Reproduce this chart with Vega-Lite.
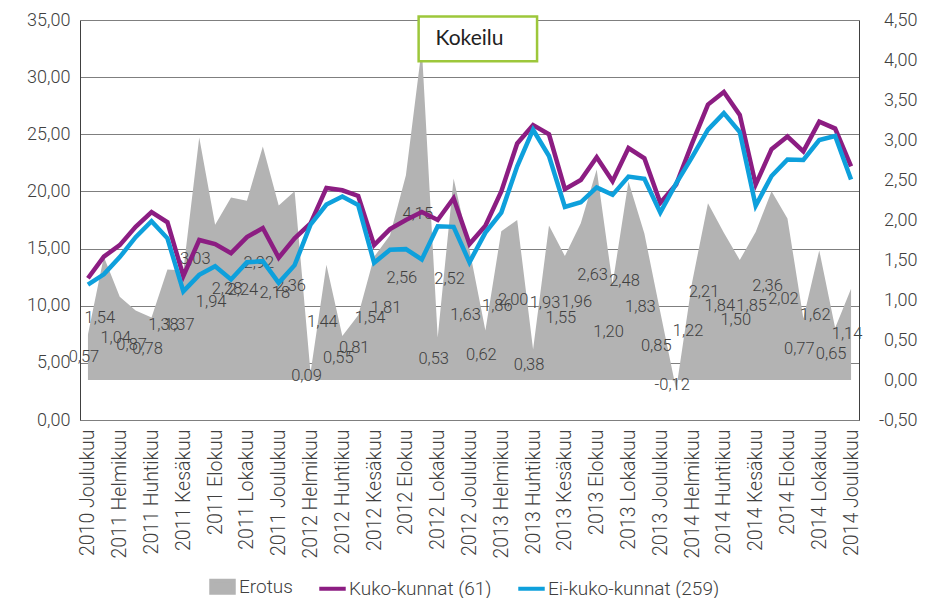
{
  "$schema": "https://vega.github.io/schema/vega-lite/v6.json",
  "width": 779,
  "height": 400,
  "autosize": {"type": "none"},
  "padding": {"left": 80, "top": 20, "right": 67, "bottom": 178},
  "background": "white",
  "config": {
    "view": {"stroke": null},
    "font": "Roboto",
    "axis": {"labelFont": "Roboto", "labelFontWeight": 300, "labelColor": "#404040", "labelFontSize": 18, "title": null},
    "legend": {
      "title": null, "orient": "none", "legendX": 127, "legendY": 551, "direction": "horizontal",
      "labelFontSize": 19, "labelColor": "#404040", "labelFont": "Roboto", "labelFontWeight": 300, "labelLimit": 400,
      "symbolSize": 700, "symbolStrokeWidth": 4, "labelOffset": 1, "columnPadding": 18
    }
  },
  "datasets": {
    "erotus": [
      {"m": "2010 Joulukuu", "e": 0.57},
      {"m": "2011 Tammikuu", "e": 1.54},
      {"m": "2011 Helmikuu", "e": 1.04},
      {"m": "2011 Maaliskuu", "e": 0.87},
      {"m": "2011 Huhtikuu", "e": 0.78},
      {"m": "2011 Toukokuu", "e": 1.38},
      {"m": "2011 Kesäkuu", "e": 1.37},
      {"m": "2011 Heinäkuu", "e": 3.03},
      {"m": "2011 Elokuu", "e": 1.94},
      {"m": "2011 Syyskuu", "e": 2.28},
      {"m": "2011 Lokakuu", "e": 2.24},
      {"m": "2011 Marraskuu", "e": 2.92},
      {"m": "2011 Joulukuu", "e": 2.18},
      {"m": "2012 Tammikuu", "e": 2.36},
      {"m": "2012 Helmikuu", "e": 0.09},
      {"m": "2012 Maaliskuu", "e": 1.44},
      {"m": "2012 Huhtikuu", "e": 0.55},
      {"m": "2012 Toukokuu", "e": 0.81},
      {"m": "2012 Kesäkuu", "e": 1.54},
      {"m": "2012 Heinäkuu", "e": 1.81},
      {"m": "2012 Elokuu", "e": 2.56},
      {"m": "2012 Syyskuu", "e": 4.15},
      {"m": "2012 Lokakuu", "e": 0.53},
      {"m": "2012 Marraskuu", "e": 2.52},
      {"m": "2012 Joulukuu", "e": 1.63},
      {"m": "2013 Tammikuu", "e": 0.62},
      {"m": "2013 Helmikuu", "e": 1.86},
      {"m": "2013 Maaliskuu", "e": 2.00},
      {"m": "2013 Huhtikuu", "e": 0.38},
      {"m": "2013 Toukokuu", "e": 1.93},
      {"m": "2013 Kesäkuu", "e": 1.55},
      {"m": "2013 Heinäkuu", "e": 1.96},
      {"m": "2013 Elokuu", "e": 2.63},
      {"m": "2013 Syyskuu", "e": 1.20},
      {"m": "2013 Lokakuu", "e": 2.48},
      {"m": "2013 Marraskuu", "e": 1.83},
      {"m": "2013 Joulukuu", "e": 0.85},
      {"m": "2014 Tammikuu", "e": -0.12},
      {"m": "2014 Helmikuu", "e": 1.22},
      {"m": "2014 Maaliskuu", "e": 2.21},
      {"m": "2014 Huhtikuu", "e": 1.84},
      {"m": "2014 Toukokuu", "e": 1.50},
      {"m": "2014 Kesäkuu", "e": 1.85},
      {"m": "2014 Heinäkuu", "e": 2.36},
      {"m": "2014 Elokuu", "e": 2.02},
      {"m": "2014 Syyskuu", "e": 0.77},
      {"m": "2014 Lokakuu", "e": 1.62},
      {"m": "2014 Marraskuu", "e": 0.65},
      {"m": "2014 Joulukuu", "e": 1.14}
    ],
    "lines": [
      {"m": "2010 Joulukuu", "s": "Kuko-kunnat (61)", "v": 12.4},
      {"m": "2011 Tammikuu", "s": "Kuko-kunnat (61)", "v": 14.3},
      {"m": "2011 Helmikuu", "s": "Kuko-kunnat (61)", "v": 15.3},
      {"m": "2011 Maaliskuu", "s": "Kuko-kunnat (61)", "v": 16.9},
      {"m": "2011 Huhtikuu", "s": "Kuko-kunnat (61)", "v": 18.2},
      {"m": "2011 Toukokuu", "s": "Kuko-kunnat (61)", "v": 17.3},
      {"m": "2011 Kesäkuu", "s": "Kuko-kunnat (61)", "v": 12.6},
      {"m": "2011 Heinäkuu", "s": "Kuko-kunnat (61)", "v": 15.75},
      {"m": "2011 Elokuu", "s": "Kuko-kunnat (61)", "v": 15.4},
      {"m": "2011 Syyskuu", "s": "Kuko-kunnat (61)", "v": 14.6},
      {"m": "2011 Lokakuu", "s": "Kuko-kunnat (61)", "v": 16.0},
      {"m": "2011 Marraskuu", "s": "Kuko-kunnat (61)", "v": 16.8},
      {"m": "2011 Joulukuu", "s": "Kuko-kunnat (61)", "v": 14.2},
      {"m": "2012 Tammikuu", "s": "Kuko-kunnat (61)", "v": 15.9},
      {"m": "2012 Helmikuu", "s": "Kuko-kunnat (61)", "v": 17.2},
      {"m": "2012 Maaliskuu", "s": "Kuko-kunnat (61)", "v": 20.3},
      {"m": "2012 Huhtikuu", "s": "Kuko-kunnat (61)", "v": 20.1},
      {"m": "2012 Toukokuu", "s": "Kuko-kunnat (61)", "v": 19.6},
      {"m": "2012 Kesäkuu", "s": "Kuko-kunnat (61)", "v": 15.3},
      {"m": "2012 Heinäkuu", "s": "Kuko-kunnat (61)", "v": 16.7},
      {"m": "2012 Elokuu", "s": "Kuko-kunnat (61)", "v": 17.5},
      {"m": "2012 Syyskuu", "s": "Kuko-kunnat (61)", "v": 18.2},
      {"m": "2012 Lokakuu", "s": "Kuko-kunnat (61)", "v": 17.5},
      {"m": "2012 Marraskuu", "s": "Kuko-kunnat (61)", "v": 19.4},
      {"m": "2012 Joulukuu", "s": "Kuko-kunnat (61)", "v": 15.4},
      {"m": "2013 Tammikuu", "s": "Kuko-kunnat (61)", "v": 17.0},
      {"m": "2013 Helmikuu", "s": "Kuko-kunnat (61)", "v": 20.0},
      {"m": "2013 Maaliskuu", "s": "Kuko-kunnat (61)", "v": 24.2},
      {"m": "2013 Huhtikuu", "s": "Kuko-kunnat (61)", "v": 25.8},
      {"m": "2013 Toukokuu", "s": "Kuko-kunnat (61)", "v": 25.0},
      {"m": "2013 Kesäkuu", "s": "Kuko-kunnat (61)", "v": 20.2},
      {"m": "2013 Heinäkuu", "s": "Kuko-kunnat (61)", "v": 21.0},
      {"m": "2013 Elokuu", "s": "Kuko-kunnat (61)", "v": 23.0},
      {"m": "2013 Syyskuu", "s": "Kuko-kunnat (61)", "v": 20.9},
      {"m": "2013 Lokakuu", "s": "Kuko-kunnat (61)", "v": 23.8},
      {"m": "2013 Marraskuu", "s": "Kuko-kunnat (61)", "v": 22.9},
      {"m": "2013 Joulukuu", "s": "Kuko-kunnat (61)", "v": 19.0},
      {"m": "2014 Tammikuu", "s": "Kuko-kunnat (61)", "v": 20.6},
      {"m": "2014 Helmikuu", "s": "Kuko-kunnat (61)", "v": 24.2},
      {"m": "2014 Maaliskuu", "s": "Kuko-kunnat (61)", "v": 27.6},
      {"m": "2014 Huhtikuu", "s": "Kuko-kunnat (61)", "v": 28.7},
      {"m": "2014 Toukokuu", "s": "Kuko-kunnat (61)", "v": 26.7},
      {"m": "2014 Kesäkuu", "s": "Kuko-kunnat (61)", "v": 20.6},
      {"m": "2014 Heinäkuu", "s": "Kuko-kunnat (61)", "v": 23.7},
      {"m": "2014 Elokuu", "s": "Kuko-kunnat (61)", "v": 24.8},
      {"m": "2014 Syyskuu", "s": "Kuko-kunnat (61)", "v": 23.5},
      {"m": "2014 Lokakuu", "s": "Kuko-kunnat (61)", "v": 26.1},
      {"m": "2014 Marraskuu", "s": "Kuko-kunnat (61)", "v": 25.5},
      {"m": "2014 Joulukuu", "s": "Kuko-kunnat (61)", "v": 22.2},
      {"m": "2010 Joulukuu", "s": "Ei-kuko-kunnat (259)", "v": 11.85},
      {"m": "2011 Tammikuu", "s": "Ei-kuko-kunnat (259)", "v": 12.75},
      {"m": "2011 Helmikuu", "s": "Ei-kuko-kunnat (259)", "v": 14.25},
      {"m": "2011 Maaliskuu", "s": "Ei-kuko-kunnat (259)", "v": 16.0},
      {"m": "2011 Huhtikuu", "s": "Ei-kuko-kunnat (259)", "v": 17.4},
      {"m": "2011 Toukokuu", "s": "Ei-kuko-kunnat (259)", "v": 15.9},
      {"m": "2011 Kesäkuu", "s": "Ei-kuko-kunnat (259)", "v": 11.25},
      {"m": "2011 Heinäkuu", "s": "Ei-kuko-kunnat (259)", "v": 12.7},
      {"m": "2011 Elokuu", "s": "Ei-kuko-kunnat (259)", "v": 13.45},
      {"m": "2011 Syyskuu", "s": "Ei-kuko-kunnat (259)", "v": 12.3},
      {"m": "2011 Lokakuu", "s": "Ei-kuko-kunnat (259)", "v": 13.8},
      {"m": "2011 Marraskuu", "s": "Ei-kuko-kunnat (259)", "v": 13.9},
      {"m": "2011 Joulukuu", "s": "Ei-kuko-kunnat (259)", "v": 12.0},
      {"m": "2012 Tammikuu", "s": "Ei-kuko-kunnat (259)", "v": 13.55},
      {"m": "2012 Helmikuu", "s": "Ei-kuko-kunnat (259)", "v": 17.1},
      {"m": "2012 Maaliskuu", "s": "Ei-kuko-kunnat (259)", "v": 18.85},
      {"m": "2012 Huhtikuu", "s": "Ei-kuko-kunnat (259)", "v": 19.55},
      {"m": "2012 Toukokuu", "s": "Ei-kuko-kunnat (259)", "v": 18.8},
      {"m": "2012 Kesäkuu", "s": "Ei-kuko-kunnat (259)", "v": 13.75},
      {"m": "2012 Heinäkuu", "s": "Ei-kuko-kunnat (259)", "v": 14.9},
      {"m": "2012 Elokuu", "s": "Ei-kuko-kunnat (259)", "v": 14.95},
      {"m": "2012 Syyskuu", "s": "Ei-kuko-kunnat (259)", "v": 14.05},
      {"m": "2012 Lokakuu", "s": "Ei-kuko-kunnat (259)", "v": 16.95},
      {"m": "2012 Marraskuu", "s": "Ei-kuko-kunnat (259)", "v": 16.9},
      {"m": "2012 Joulukuu", "s": "Ei-kuko-kunnat (259)", "v": 13.8},
      {"m": "2013 Tammikuu", "s": "Ei-kuko-kunnat (259)", "v": 16.4},
      {"m": "2013 Helmikuu", "s": "Ei-kuko-kunnat (259)", "v": 18.15},
      {"m": "2013 Maaliskuu", "s": "Ei-kuko-kunnat (259)", "v": 22.2},
      {"m": "2013 Huhtikuu", "s": "Ei-kuko-kunnat (259)", "v": 25.4},
      {"m": "2013 Toukokuu", "s": "Ei-kuko-kunnat (259)", "v": 23.1},
      {"m": "2013 Kesäkuu", "s": "Ei-kuko-kunnat (259)", "v": 18.65},
      {"m": "2013 Heinäkuu", "s": "Ei-kuko-kunnat (259)", "v": 19.05},
      {"m": "2013 Elokuu", "s": "Ei-kuko-kunnat (259)", "v": 20.35},
      {"m": "2013 Syyskuu", "s": "Ei-kuko-kunnat (259)", "v": 19.7},
      {"m": "2013 Lokakuu", "s": "Ei-kuko-kunnat (259)", "v": 21.3},
      {"m": "2013 Marraskuu", "s": "Ei-kuko-kunnat (259)", "v": 21.1},
      {"m": "2013 Joulukuu", "s": "Ei-kuko-kunnat (259)", "v": 18.15},
      {"m": "2014 Tammikuu", "s": "Ei-kuko-kunnat (259)", "v": 20.7},
      {"m": "2014 Helmikuu", "s": "Ei-kuko-kunnat (259)", "v": 23.0},
      {"m": "2014 Maaliskuu", "s": "Ei-kuko-kunnat (259)", "v": 25.4},
      {"m": "2014 Huhtikuu", "s": "Ei-kuko-kunnat (259)", "v": 26.85},
      {"m": "2014 Toukokuu", "s": "Ei-kuko-kunnat (259)", "v": 25.2},
      {"m": "2014 Kesäkuu", "s": "Ei-kuko-kunnat (259)", "v": 18.75},
      {"m": "2014 Heinäkuu", "s": "Ei-kuko-kunnat (259)", "v": 21.35},
      {"m": "2014 Elokuu", "s": "Ei-kuko-kunnat (259)", "v": 22.8},
      {"m": "2014 Syyskuu", "s": "Ei-kuko-kunnat (259)", "v": 22.75},
      {"m": "2014 Lokakuu", "s": "Ei-kuko-kunnat (259)", "v": 24.5},
      {"m": "2014 Marraskuu", "s": "Ei-kuko-kunnat (259)", "v": 24.85},
      {"m": "2014 Joulukuu", "s": "Ei-kuko-kunnat (259)", "v": 21.05}
    ],
    "note": [
      {"label": "Kokeilu", "x1": 21.3, "x2": 28.75, "y1": 35.3, "y2": 31.4, "xt": 24.5, "yt": 33.3}
    ]
  },
  "layer": [
    {
      "data": {"name": "erotus"},
      "mark": {"type": "area", "interpolate": "linear", "opacity": 1},
      "encoding": {
        "x": {
          "field": "m", "type": "ordinal", "sort": null,
          "scale": {"type": "point", "padding": 0.5},
          "axis": {
            "values": ["2010 Joulukuu", "2011 Helmikuu", "2011 Huhtikuu", "2011 Kesäkuu", "2011 Elokuu", "2011 Lokakuu", "2011 Joulukuu", "2012 Helmikuu", "2012 Huhtikuu", "2012 Kesäkuu", "2012 Elokuu", "2012 Lokakuu", "2012 Joulukuu", "2013 Helmikuu", "2013 Huhtikuu", "2013 Kesäkuu", "2013 Elokuu", "2013 Lokakuu", "2013 Joulukuu", "2014 Helmikuu", "2014 Huhtikuu", "2014 Kesäkuu", "2014 Elokuu", "2014 Lokakuu", "2014 Joulukuu"],
            "labelAngle": -90, "ticks": false, "grid": false, "domain": true, "domainColor": "#7f7f7f",
            "labelPadding": 9, "labelFontSize": 19.5, "labelOverlap": false, "labelBound": false
          }
        },
        "y": {
          "field": "e", "type": "quantitative",
          "scale": {"domain": [-0.5, 4.5], "nice": false},
          "axis": {
            "orient": "right", "values": [-0.5, 0, 0.5, 1, 1.5, 2, 2.5, 3, 3.5, 4, 4.5],
            "labelExpr": "(datum.value < 0 ? '-' : '') + replace(format(abs(datum.value), '.2f'), '.', ',')",
            "grid": false, "ticks": false, "domainColor": "#404040", "labelAlign": "right", "labelPadding": 58
          }
        },
        "color": {
          "datum": "Erotus",
          "scale": {"domain": ["Erotus", "Kuko-kunnat (61)", "Ei-kuko-kunnat (259)"], "range": ["#b3b3b3", "#8C1D82", "#0EA0DC"]},
          "legend": {
            "title": null, "orient": "none", "legendX": 127, "legendY": 551, "direction": "horizontal",
            "values": ["Erotus", "Kuko-kunnat (61)", "Ei-kuko-kunnat (259)"],
            "encode": {
              "symbols": {
                "update": {
                  "shape": {"signal": "datum.value === 'Erotus' ? 'M-0.85,-0.45H0.85V0.45H-0.85Z' : 'stroke'"},
                  "fill": {"signal": "datum.value === 'Erotus' ? '#b3b3b3' : 'transparent'"},
                  "stroke": {"signal": "datum.value === 'Erotus' ? 'transparent' : (datum.value === 'Kuko-kunnat (61)' ? '#8C1D82' : '#0EA0DC')"},
                  "strokeWidth": {"value": 4},
                  "opacity": {"value": 1}
                }
              }
            }
          }
        }
      }
    },
    {
      "data": {"name": "erotus"},
      "mark": {
        "type": "text", "fontSize": 16.5, "fontWeight": 300, "color": "#404040", "dx": -4, "baseline": "middle",
        "text": {"expr": "(datum.e < 0 ? '-' : '') + replace(format(abs(datum.e), '.2f'), '.', ',')"}
      },
      "encoding": {
        "x": {"field": "m", "type": "ordinal", "sort": null, "scale": {"type": "point", "padding": 0.5}, "axis": null},
        "y": {"field": "e", "type": "quantitative", "scale": {"domain": [-1, 9], "nice": false, "zero": false}, "axis": null}
      }
    },
    {
      "data": {"name": "lines"},
      "mark": {"type": "line", "strokeWidth": 4.5, "strokeJoin": "miter", "interpolate": "linear"},
      "encoding": {
        "x": {"field": "m", "type": "ordinal", "sort": null, "scale": {"type": "point", "padding": 0.5}, "axis": null},
        "y": {
          "field": "v", "type": "quantitative",
          "scale": {"domain": [0, 35], "nice": false},
          "axis": {
            "orient": "left", "values": [0, 5, 10, 15, 20, 25, 30, 35],
            "labelExpr": "replace(format(datum.value, '.2f'), '.', ',')",
            "grid": true, "gridColor": "#7f7f7f", "gridWidth": 1, "ticks": false,
            "domainColor": "#404040", "labelPadding": 10
          }
        },
        "color": {
          "field": "s", "type": "nominal",
          "scale": {"domain": ["Erotus", "Kuko-kunnat (61)", "Ei-kuko-kunnat (259)"], "range": ["#b3b3b3", "#8C1D82", "#0EA0DC"]},
          "legend": {
            "title": null, "orient": "none", "legendX": 127, "legendY": 551, "direction": "horizontal",
            "values": ["Erotus", "Kuko-kunnat (61)", "Ei-kuko-kunnat (259)"],
            "encode": {
              "symbols": {
                "update": {
                  "shape": {"signal": "datum.value === 'Erotus' ? 'M-0.85,-0.45H0.85V0.45H-0.85Z' : 'stroke'"},
                  "fill": {"signal": "datum.value === 'Erotus' ? '#b3b3b3' : 'transparent'"},
                  "stroke": {"signal": "datum.value === 'Erotus' ? 'transparent' : (datum.value === 'Kuko-kunnat (61)' ? '#8C1D82' : '#0EA0DC')"},
                  "strokeWidth": {"value": 4},
                  "opacity": {"value": 1}
                }
              }
            }
          }
        }
      }
    },
    {
      "data": {"name": "note"},
      "layer": [
        {
          "mark": {"type": "rect", "fill": "white", "stroke": "#9DC73B", "strokeWidth": 2.5},
          "encoding": {
            "x": {"field": "x1", "type": "quantitative", "scale": {"domain": [0, 49], "nice": false, "zero": false}, "axis": null},
            "x2": {"field": "x2"},
            "y": {"field": "y1", "type": "quantitative", "scale": {"domain": [0, 35], "nice": false}, "axis": null},
            "y2": {"field": "y2"}
          }
        },
        {
          "mark": {"type": "text", "font": "Lato", "fontSize": 21, "color": "#222222", "baseline": "middle"},
          "encoding": {
            "x": {"field": "xt", "type": "quantitative", "scale": {"domain": [0, 49], "nice": false, "zero": false}, "axis": null},
            "y": {"field": "yt", "type": "quantitative", "scale": {"domain": [0, 35], "nice": false}, "axis": null},
            "text": {"field": "label"}
          }
        }
      ]
    }
  ],
  "resolve": {"scale": {"x": "independent", "y": "independent"}}
}
